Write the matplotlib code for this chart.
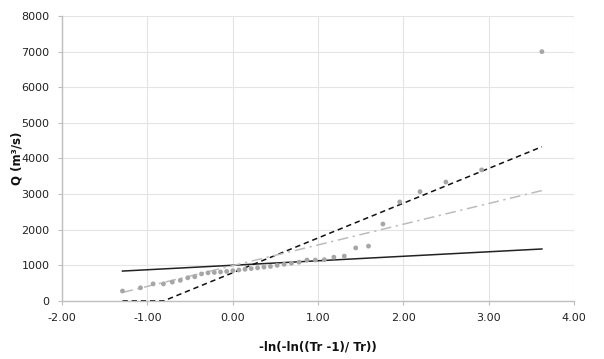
import matplotlib
matplotlib.use("Agg")
import matplotlib.pyplot as plt
from matplotlib.ticker import FormatStrFormatter

##############################################
# Data
##############################################
# reduced variate -ln(-ln((Tr-1)/Tr)) of the observed floods
x_obs = [-1.291, -1.080, -0.932, -0.811, -0.707, -0.613, -0.526, -0.444,
         -0.365, -0.289, -0.215, -0.142, -0.070, 0.002, 0.073, 0.145,
         0.218, 0.292, 0.367, 0.443, 0.522, 0.604, 0.689, 0.778,
         0.871, 0.969, 1.074, 1.186, 1.308, 1.442, 1.592, 1.761,
         1.958, 2.196, 2.499, 2.918, 3.624]
q_obs = [280, 370, 480, 480, 530, 580, 650, 680,
         760, 790, 800, 815, 830, 850, 870, 890,
         910, 930, 950, 970, 1000, 1030, 1060, 1090,
         1150, 1150, 1160, 1230, 1260, 1490, 1540, 2160,
         2780, 3070, 3340, 3680, 7000]

# fitted lines
x_solid = [-1.291, 3.624]
q_solid = [840, 1460]

x_dash = [-1.291, -1.080, -0.932, -0.811, 3.624]
q_dash = [0, 0, 0, 0, 4330]

x_dashdot = [-1.291, 3.624]
q_dashdot = [240, 3100]

x_ticks = [-2, -1, 0, 1, 2, 3, 4]
y_ticks = [0, 1000, 2000, 3000, 4000, 5000, 6000, 7000, 8000]

##############################################
# Plot
##############################################
fig = plt.figure(figsize=(6.04, 3.59), dpi=100)
ax = fig.add_axes([0.1026, 0.1616, 0.8477, 0.7938])

ax.plot(x_solid, q_solid, color="#222222", lw=1.1, zorder=3)
ax.plot(x_dash, q_dash, color="#111111", lw=1.1, ls=(0, (3.5, 2.5)), zorder=3)
ax.plot(x_dashdot, q_dashdot, color="#bcbcbc", lw=1.1,
        ls=(0, (7, 3, 1.5, 3)), zorder=3)
ax.scatter(x_obs, q_obs, s=12, color="#a6a6a6", edgecolors="none", zorder=4)

ax.set_xlim(-2, 4)
ax.set_ylim(0, 8000)
ax.set_xticks(x_ticks)
ax.set_yticks(y_ticks)
ax.xaxis.set_major_formatter(FormatStrFormatter("%.2f"))

ax.grid(True, color="#e4e4e4", lw=0.8)
ax.set_axisbelow(True)
for s in ["top", "right"]:
    ax.spines[s].set_visible(False)
for s in ["left", "bottom"]:
    ax.spines[s].set_color("#bfbfbf")
    ax.spines[s].set_linewidth(1.0)

ax.tick_params(axis="both", direction="out", length=3, width=0.8,
               color="#bfbfbf", labelsize=8, labelcolor="#222222")
ax.tick_params(axis="x", pad=6)
ax.tick_params(axis="y", pad=6)

ax.set_xlabel("-ln(-ln((Tr -1)/ Tr))", fontsize=8.5, fontweight="bold",
              labelpad=12, color="#111111")
ax.set_ylabel("Q (m³/s)", fontsize=8.5, fontweight="bold", color="#111111")
ax.yaxis.set_label_coords(-0.076, 0.5)

fig.savefig("out.png", dpi=100)
